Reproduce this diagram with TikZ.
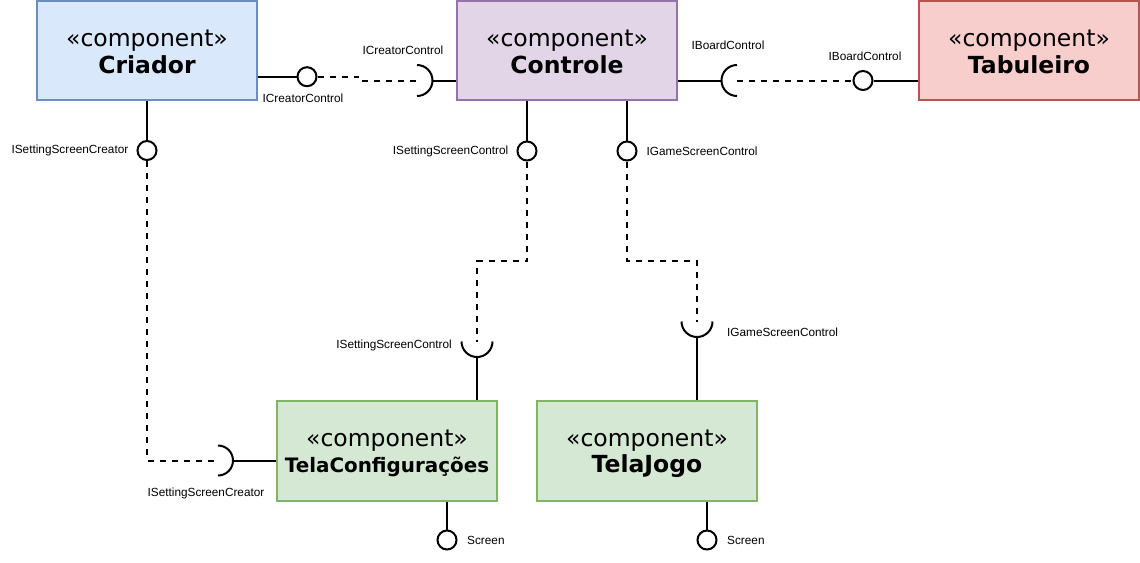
\documentclass[tikz,border=0pt]{standalone}
\usepackage{fontspec}
\usetikzlibrary{calc}
\setmainfont{Liberation Sans}
\newfontfamily\boxfont{DejaVu Sans}
\definecolor{bluefill}{HTML}{DAE8FC}\definecolor{bluedraw}{HTML}{6C8EBF}
\definecolor{purpfill}{HTML}{E1D5E7}\definecolor{purpdraw}{HTML}{9673A6}
\definecolor{redfill}{HTML}{F8CECC}\definecolor{reddraw}{HTML}{B85450}
\definecolor{grnfill}{HTML}{D5E8D4}\definecolor{grndraw}{HTML}{82B366}
\tikzset{
  comp/.style={rectangle, draw, line width=1.8pt, minimum width=220pt, minimum height=99.5pt, inner sep=0pt},
  stereo/.style={anchor=base, inner sep=0pt, font=\boxfont\fontsize{23.5}{27}\selectfont},
  cname/.style={anchor=base, inner sep=0pt, font=\boxfont\bfseries\fontsize{23.5}{27}\selectfont},
  lolli/.style={circle, draw, line width=2pt, minimum size=19pt, inner sep=0pt, fill=white},
  lbl/.style={inner sep=0pt, font=\fontsize{11.8}{13}\selectfont},
  conn/.style={line width=2pt, black},
  dconn/.style={line width=2pt, black, dash pattern=on 6pt off 6pt},
}
\begin{document}
\begin{tikzpicture}[x=1pt,y=-1pt]
\useasboundingbox (0,0) rectangle (1140,562);
% components
\node[comp, fill=bluefill, draw=bluedraw] (cri) at (147,50.5) {};
\node[comp, fill=purpfill, draw=purpdraw] (ctl) at (567,50.5) {};
\node[comp, fill=redfill, draw=reddraw] (tab) at (1029,50.5) {};
\node[comp, fill=grnfill, draw=grndraw] (tcf) at (387,451) {};
\node[comp, fill=grnfill, draw=grndraw] (tjg) at (647,451) {};
\node[stereo] (cri-s) at (147,46.5) {«component»};
\node[cname]  (cri-n) at (147,73.5) {Criador};
\node[stereo] (ctl-s) at (567,46.5) {«component»};
\node[cname]  (ctl-n) at (567,73.5) {Controle};
\node[stereo] (tab-s) at (1029,46.5) {«component»};
\node[cname]  (tab-n) at (1029,73.5) {Tabuleiro};
\node[stereo] (tcf-s) at (387,446) {«component»};
\node[anchor=base, inner sep=0pt, font=\boxfont\bfseries\fontsize{19.9}{24}\selectfont] (tcf-n) at (387,472.5) {TelaConfigurações};
\node[stereo] (tjg-s) at (647,446) {«component»};
\node[cname]  (tjg-n) at (647,472.5) {TelaJogo};
% lollipops (provided interfaces)
\node[lolli] (c1) at (307,76.7) {};
\node[lolli] (c2) at (863,80.5) {};
\node[lolli] (c3) at (147,150.5) {};
\node[lolli] (c4) at (527,151) {};
\node[lolli] (c5) at (627,151) {};
\node[lolli] (c6) at (447,540) {};
\node[lolli] (c7) at (707,540) {};
% socket centres (required interfaces)
\coordinate (s1) at (417,80.5);
\coordinate (s2) at (737,80.5);
\coordinate (s3) at (218,460.5);
\coordinate (s4) at (477,341.5);
\coordinate (s5) at (697,321.5);
% solid stems
\draw[conn] (cri.east |- c1) -- (c1.west);
\draw[conn] (c2.east) -- (tab.west |- c2);
\draw[conn] (cri.south) -- (c3.north);
\draw[conn] (c4 |- ctl.south) -- (c4.north);
\draw[conn] (c5 |- ctl.south) -- (c5.north);
\draw[conn] (c6 |- tcf.south) -- (c6.north);
\draw[conn] (c7 |- tjg.south) -- (c7.north);
% sockets
\draw[conn] ($(s1)+(0,-15.5)$) arc[start angle=-90, end angle=90, radius=15.5];
\draw[conn] ($(s1)+(15.5,0)$) -- (ctl.west |- s1);
\draw[conn] ($(s2)+(0,-15.5)$) arc[start angle=270, end angle=90, radius=15.5];
\draw[conn] ($(s2)+(-15.5,0)$) -- (ctl.east |- s2);
\draw[conn] ($(s3)+(0,-15)$) arc[start angle=-90, end angle=90, radius=15];
\draw[conn] ($(s3)+(15,0)$) -- (tcf.west |- s3);
\draw[conn] ($(s4)+(-15.5,0)$) arc[start angle=180, end angle=0, radius=15.5];
\draw[conn] ($(s4)+(0,15.5)$) -- (s4 |- tcf.north);
\draw[conn] ($(s5)+(-15.5,0)$) arc[start angle=180, end angle=0, radius=15.5];
\draw[conn] ($(s5)+(0,15.5)$) -- (s5 |- tjg.north);
% dashed dependencies
\draw[dconn] (c1.east) -- (358,76.7) -- (358,80.5) -- (s1);
\draw[dconn] (s2) -- (c2.west);
\draw[dconn] (c3.south) |- (s3);
\draw[dconn] (c4.south) -- (527,261) -| (s4);
\draw[dconn] (c5.south) -- (627,261) -| (s5);
% labels
\node[lbl] (l1) at (403,50) {ICreatorControl};
\node[lbl] (l2) at (303,98) {ICreatorControl};
\node[lbl] (l3) at (728,45.5) {IBoardControl};
\node[lbl] (l4) at (865,56) {IBoardControl};
\node[lbl, anchor=east] (l5) at (128.5,150.5) {ISettingScreenCreator};
\node[lbl] (l6) at (206,493.5) {ISettingScreenCreator};
\node[lbl, anchor=east] (l7) at (508.5,151) {ISettingScreenControl};
\node[lbl, anchor=west] (l8) at (646.5,151) {IGameScreenControl};
\node[lbl, anchor=east] (l9) at (452,345) {ISettingScreenControl};
\node[lbl, anchor=west] (l10) at (727,332.5) {IGameScreenControl};
\node[lbl, anchor=west] (l11) at (467,540) {Screen};
\node[lbl, anchor=west] (l12) at (727,540) {Screen};
\end{tikzpicture}
\end{document}
